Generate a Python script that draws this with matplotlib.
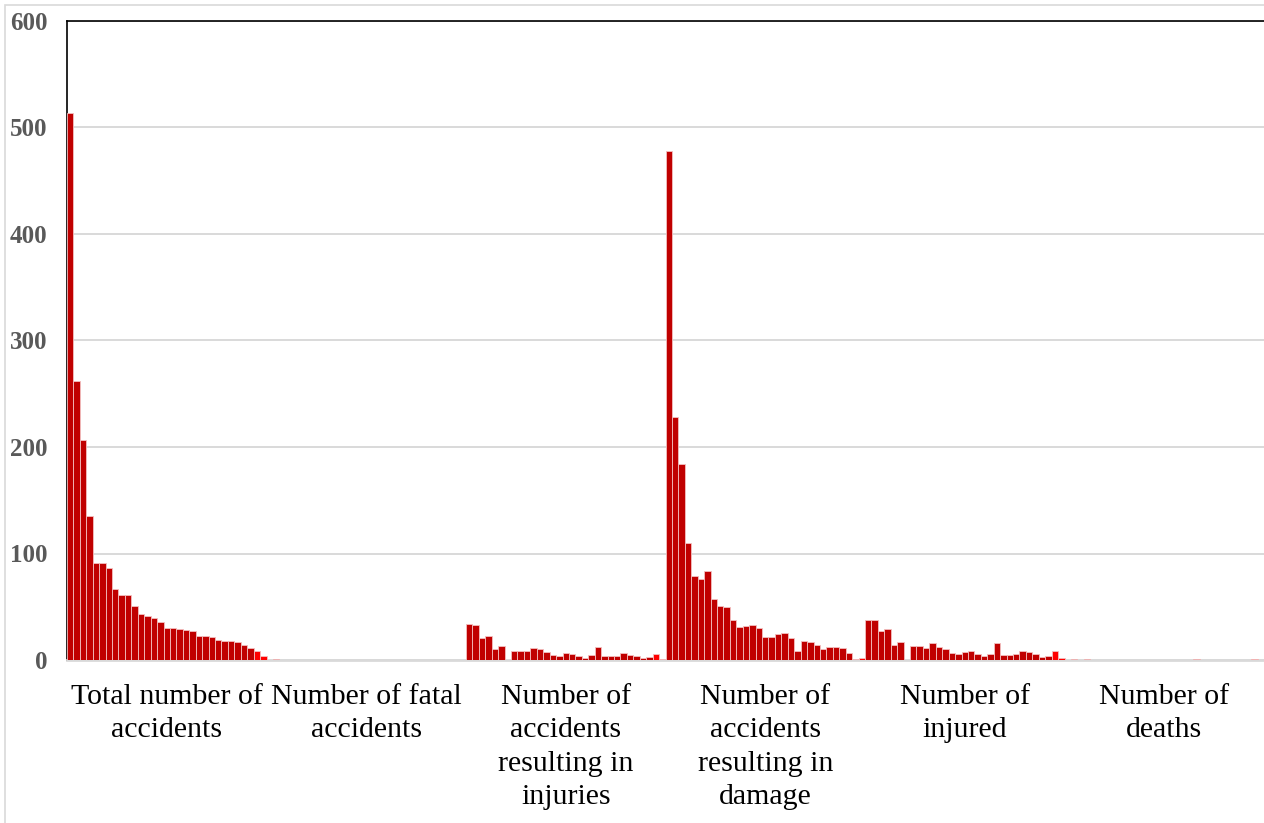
import matplotlib.pyplot as plt
import numpy as np

# Categories shown on the x axis
categories = ["Total number of\naccidents", "Number of fatal\naccidents",
              "Number of\naccidents\nresulting in\ninjuries",
              "Number of\naccidents\nresulting in\ndamage",
              "Number of\ninjured", "Number of\ndeaths"]

# One value per series (31 series) for each category
total_accidents = [514, 262, 207, 135, 91, 91, 86, 67, 61, 61, 51, 43, 41, 39, 36, 30,
                   30, 29, 28, 27, 23, 23, 22, 19, 18, 18, 17, 14, 11, 8, 4]
fatal_accidents = [0, 1, 0, 0.3, 0, 0, 0, 0, 0, 0, 0, 0, 0, 0, 0, 0,
                   0, 0, 0, 0, 0.2, 0, 0, 0, 0, 0, 0, 0, 0, 0.2, 0]
injury_accidents = [34, 32.5, 21, 22.5, 10, 13, 0, 8.5, 8.5, 8.5, 11, 10, 7.5, 4.7, 3.8, 6.3,
                    6, 3.8, 2.2, 4.4, 12.2, 3.4, 3.8, 3.8, 6.6, 4.7, 3.8, 1.9, 2.8, 5.3, 1.3]
damage_accidents = [478, 228, 184, 110, 79, 76, 84, 57, 51, 50, 38, 31, 32, 33, 30, 22,
                    22, 24, 25, 21, 8.5, 18, 17, 14, 10, 12, 12, 11, 7, 1.3, 1.9]
injured = [38, 38, 27, 29, 14, 17, 0, 13, 13, 11, 15.6, 12.5, 10, 6.6, 5.6, 7.8,
           8.1, 5.3, 3.8, 5.6, 15.6, 4.7, 4.4, 5.3, 8.8, 7.5, 5.6, 3.1, 3.8, 8.5, 1.9]
deaths = [0, 1, 0, 0.5, 0, 0, 0, 0, 0, 0, 0, 0, 0, 0, 0, 0,
          0, 0, 0, 0, 0.5, 0, 0, 0, 0, 0, 0, 0, 0, 0.7, 0]

y_ticks = [0, 100, 200, 300, 400, 500, 600]

data = np.array([total_accidents, fatal_accidents, injury_accidents,
                 damage_accidents, injured, deaths])
n_cat, n_series = data.shape

fig = plt.figure(figsize=(12.64, 8.23), dpi=100)
ax = fig.add_axes([67 / 1264, 1 - 660 / 823, 1 - 67 / 1264, (660 - 21) / 823])

# light outer chart border
fig.add_artist(plt.Rectangle((5 / 1264, -0.1), 1.2, 1 - 5 / 823 + 0.1,
                             transform=fig.transFigure, fill=False,
                             edgecolor='#d9d9d9', linewidth=1.2))

width = 1 / n_series
x = np.arange(n_cat)
for s in range(n_series):
    color = '#ff0000' if s >= n_series - 2 else '#c00000'
    ax.bar(x - 0.5 + (s + 0.5) * width, data[:, s], width=width,
           color=color, edgecolor='#f3c0c0', linewidth=0.6, zorder=3)

ax.set_xlim(-0.5, n_cat - 0.5)
ax.set_ylim(0, 600)
ax.set_yticks(y_ticks)
ax.set_yticklabels([str(t) for t in y_ticks], fontfamily='Liberation Serif',
                   fontweight='bold', fontsize=18, color='#595959')
ax.set_xticks(x)
ax.set_xticklabels(categories, fontfamily='Liberation Serif', fontsize=21.5,
                   color='black', linespacing=1.38)
ax.tick_params(axis='y', length=0, pad=14)
ax.tick_params(axis='x', length=0, pad=17)

ax.yaxis.grid(True, color='#d9d9d9', linewidth=1.4, zorder=0)
ax.set_axisbelow(True)
ax.spines['top'].set_color('black')
ax.spines['top'].set_linewidth(1.2)
ax.spines['left'].set_color('black')
ax.spines['left'].set_linewidth(1.2)
ax.spines['right'].set_visible(False)
ax.spines['bottom'].set_color('#d9d9d9')
ax.spines['bottom'].set_linewidth(2)

plt.savefig('out.png', dpi=100)
